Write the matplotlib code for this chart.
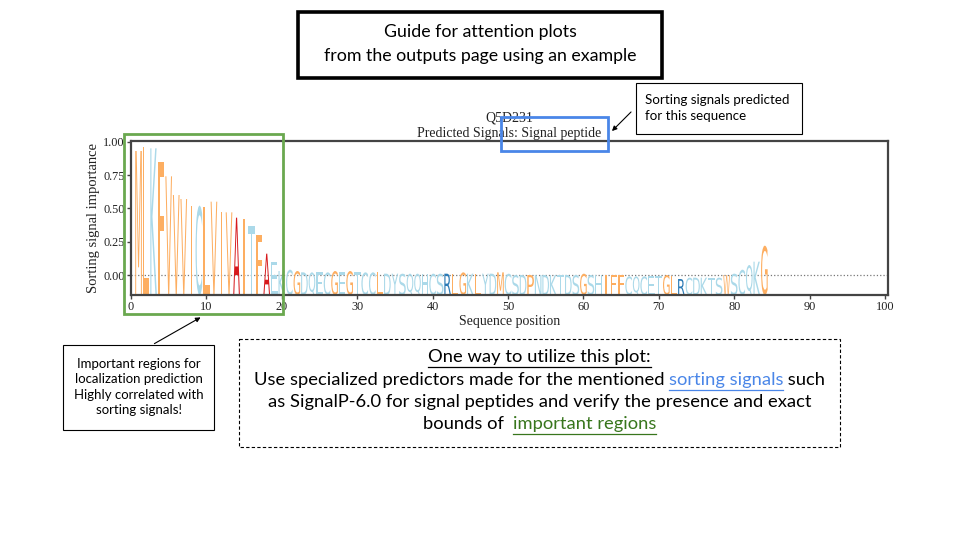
import matplotlib
matplotlib.use("Agg")
import matplotlib.pyplot as plt
import matplotlib.transforms as mtransforms
from matplotlib.patches import Rectangle, PathPatch
from matplotlib.textpath import TextPath
from matplotlib.font_manager import FontProperties

# protein sequence and per-residue sorting signal importance
protein_id = "Q5D231"
predicted_signal = "Signal peptide"
sequence = "MLKFVVVICLVIVAITFAEKCGDQECGEGTCCLDYSQQHCSRLGKLYDMCSDPNDKTDSGSHIFFCQCETGLRCDKTSWSCQKG"
importance = [
    0.93, 0.96, 0.95, 0.85, 0.74, 0.60, 0.57, 0.52, 0.52, 0.51,
    0.55, 0.47, 0.47, 0.43, 0.42, 0.37, 0.30, 0.16, 0.10, 0.03,
    0.04, 0.03, 0.02, 0.02, 0.02, 0.02, 0.03, 0.02, 0.03, 0.02,
    0.02, 0.02, 0.02, 0.01, 0.01, 0.01, 0.01, 0.01, 0.01, 0.01,
    0.01, 0.01, 0.01, 0.02, 0.01, 0.01, 0.01, 0.01, 0.02, 0.01,
    0.00, 0.00, 0.00, 0.00, 0.00, 0.00, 0.00, 0.00, 0.00, 0.01,
    0.00, 0.00, 0.00, 0.00, 0.00, -0.01, -0.01, -0.01, -0.01, -0.01,
    0.00, -0.01, -0.03, -0.02, -0.02, -0.02, -0.02, -0.02, 0.00, 0.01,
    0.04, 0.075, 0.10, 0.22,
]
x_ticks = [0, 10, 20, 30, 40, 50, 60, 70, 80, 90, 100]
y_ticks = [0.0, 0.25, 0.50, 0.75, 1.00]

# residue colours (RdYlBu style groups)
residue_colors = {}
for aa in "MLFVIGPW":
    residue_colors[aa] = "#fdae61"
for aa in "KCDQETSYHN":
    residue_colors[aa] = "#abd9e9"
residue_colors["A"] = "#d7191c"
residue_colors["R"] = "#2c7bb6"

SERIF = "Liberation Serif"
SLIDE = "Lato"

fig = plt.figure(figsize=(9.6, 5.4), dpi=100)

# ---- logo plot ----
ax = fig.add_axes([131 / 960, 1 - 295 / 540, 757 / 960, 154 / 540])
ax.set_xlim(0, 100.4)
ax.set_ylim(-0.15, 1.005)
floor = ax.get_ylim()[0]

glyph_font = FontProperties(family="DejaVu Sans")
# like logomaker: no glyph is stretched sideways more than 'E'
e_width = TextPath((0, 0), "E", size=1, prop=glyph_font).get_extents().width


def draw_letter(ch, x, top, color, width=0.88):
    tp = TextPath((0, 0), ch, size=1, prop=glyph_font)
    bb = tp.get_extents()
    sx = min(width / bb.width, width / e_width)
    w = bb.width * sx
    tr = (mtransforms.Affine2D()
          .translate(-bb.x0, -bb.y0)
          .scale(sx, (top - floor) / bb.height)
          .translate(x - w / 2, floor))
    ax.add_patch(PathPatch(tr.transform_path(tp), fc=color, ec="none"))


for i, (ch, v) in enumerate(zip(sequence, importance)):
    draw_letter(ch, i + 1, v, residue_colors[ch])

ax.axhline(0, color="#777777", ls=":", lw=0.9, zorder=0)

for s in ax.spines.values():
    s.set_color("#444444")
    s.set_linewidth(1.6)
ax.set_xticks(x_ticks)
ax.set_yticks(y_ticks)
ax.set_yticklabels([f"{t:.2f}" for t in y_ticks])
ax.tick_params(direction="out", length=3, width=1, color="#444444", labelsize=8.8, pad=1.5)
for lbl in ax.get_xticklabels() + ax.get_yticklabels():
    lbl.set_family(SERIF)
    lbl.set_color("#222222")
ax.set_xlabel("Sequence position", family=SERIF, fontsize=10, labelpad=1, color="#222222")
ax.set_ylabel("Sorting signal importance", family=SERIF, fontsize=10.5, labelpad=2, color="#222222")
ax.set_title(f"{protein_id}\nPredicted Signals: {predicted_signal}", family=SERIF,
             fontsize=10, pad=3, linespacing=1.2, color="#222222")

# ---- slide overlay (pixel coords) ----
ov = fig.add_axes([0, 0, 1, 1], facecolor="none")
ov.set_xlim(0, 960)
ov.set_ylim(540, 0)
ov.axis("off")

ov.add_patch(Rectangle((298, 12), 364, 66, fill=False, ec="black", lw=2.6))
ov.text(480, 44, "Guide for attention plots\nfrom the outputs page using an example",
        family=SLIDE, fontsize=12.8, ha="center", va="center", linespacing=1.55)

ov.add_patch(Rectangle((636, 83), 166, 51, fill=False, ec="black", lw=0.8))
ov.text(645, 108, "Sorting signals predicted\nfor this sequence", family=SLIDE,
        fontsize=9.6, ha="left", va="center", linespacing=1.3)
ov.annotate("", xy=(610, 133), xytext=(633, 110),
            arrowprops=dict(arrowstyle="-|>", color="black", lw=0.8, mutation_scale=7))
ov.add_patch(Rectangle((501, 117), 107, 34, fill=False, ec="#4a86e8", lw=2))

ov.add_patch(Rectangle((124, 134), 159, 180, fill=False, ec="#6aa84f", lw=2))
ov.add_patch(Rectangle((63, 345), 151, 85, fill=False, ec="black", lw=0.8))
ov.text(138.5, 387, "Important regions for\nlocalization prediction\nHighly correlated with\nsorting signals!",
        family=SLIDE, fontsize=9.5, ha="center", va="center", linespacing=1.35)
ov.annotate("", xy=(203, 316), xytext=(152, 345),
            arrowprops=dict(arrowstyle="-|>", color="black", lw=0.8, mutation_scale=7))

ov.add_patch(Rectangle((239, 339), 601, 108, fill=False, ec="black", lw=0.8, ls=(0, (3, 2))))

renderer = fig.canvas.get_renderer()


def ink_width(s, size):
    t = ov.text(0, 0, s, family=SLIDE, fontsize=size)
    w = t.get_window_extent(renderer).width
    t.remove()
    return w


def rich_line(pieces, xc, y, size=13.2):
    ref = ink_width("x", size)
    advs = [ink_width(s + "x", size) - ref for s, _, _ in pieces]
    x = xc - sum(advs) / 2
    for (s, c, under), adv in zip(pieces, advs):
        ov.text(x, y, s, family=SLIDE, fontsize=size, color=c, ha="left", va="center")
        if under:
            lead = ink_width("x" + s, size) - ink_width("x" + s.lstrip(), size)
            ov.plot([x + lead, x + adv], [y + 9.5, y + 9.5], color=c, lw=0.9)
        x += adv


BLUE_LINK = "#4a86e8"
GREEN_LINK = "#38761d"
rich_line([("One way to utilize this plot:", "black", True)], 539.5, 357)
rich_line([("Use specialized predictors made for the mentioned ", "black", False),
           ("sorting signals", BLUE_LINK, True),
           (" such", "black", False)], 539.5, 380)
rich_line([("as SignalP-6.0 for signal peptides and verify the presence and exact", "black", False)],
          539.5, 402)
rich_line([("bounds of  ", "black", False),
           ("important regions", GREEN_LINK, True)], 539.5, 424)

fig.savefig("out.png", dpi=100)
